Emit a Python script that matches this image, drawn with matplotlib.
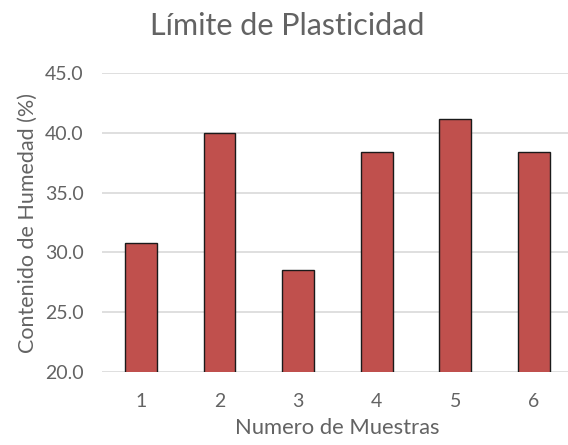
import matplotlib.pyplot as plt

muestras = ["1", "2", "3", "4", "5", "6"]
humedad = [30.8, 40.0, 28.5, 38.45, 41.15, 38.45]

plt.rcParams['font.family'] = ['Lato', 'DejaVu Sans']
gris = '#636363'

fig = plt.figure(figsize=(5.68, 4.45), dpi=100)
ax = fig.add_axes([101.7 / 568, 73.3 / 445, 471.3 / 568, 298.3 / 445])

x = range(len(muestras))
ax.bar(x, humedad, width=0.405, bottom=0, color='#C0504D', edgecolor='#1a1a1a', linewidth=1.0, zorder=3)

ax.set_ylim(20, 45)
ax.set_xlim(-0.5, len(muestras) - 0.5)
ax.set_yticks([20, 25, 30, 35, 40, 45])
ax.set_yticklabels([f"{v:.1f}" for v in [20, 25, 30, 35, 40, 45]])
ax.set_xticks(list(x))
ax.set_xticklabels(muestras)
ax.grid(axis='y', color='#D9D9D9', linewidth=1.2, zorder=0)
for s in ax.spines.values():
    s.set_visible(False)
ax.tick_params(length=0, colors=gris, labelsize=14)
ax.tick_params(axis='y', pad=13)
ax.tick_params(axis='x', pad=15)

ax.set_ylabel("Contenido de Humedad (%)", color=gris, fontsize=15.5, labelpad=5)
ax.set_xlabel("Numero de Muestras", color=gris, fontsize=15.8, labelpad=6)
fig.text(287 / 568, 1 - 26 / 445, "Límite de Plasticidad", color=gris, fontsize=22,
         ha='center', va='center')

plt.savefig("out.png", dpi=100)
plt.close()
